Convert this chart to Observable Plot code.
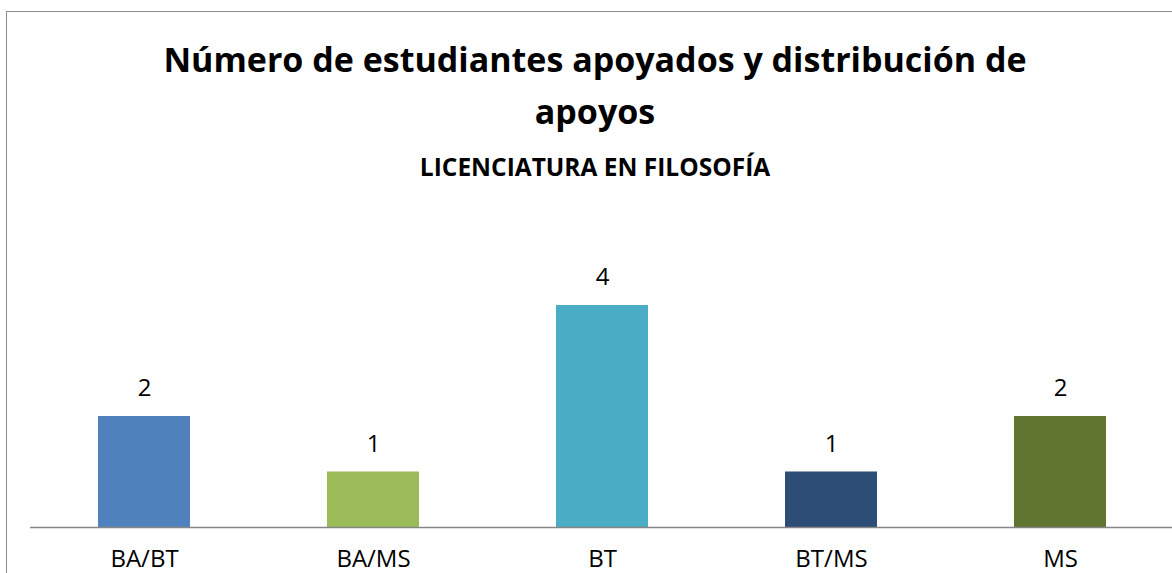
<!DOCTYPE html>
<html>
<head>
<meta charset="utf-8">
<script src="https://cdn.jsdelivr.net/npm/d3@7"></script>
<script src="https://cdn.jsdelivr.net/npm/@observablehq/plot@0.6"></script>
<style>
  html, body { margin: 0; padding: 0; background: #fff; overflow: hidden; }
  body { width: 1172px; height: 573px; position: relative; font-family: "Open Sans", sans-serif; }
  #frame { position: absolute; left: 6px; top: 11px; width: 1166px; height: 562px; border-left: 1.5px solid #8c8c8c; border-top: 1.5px solid #8c8c8c; box-sizing: border-box; }
  #title { position: absolute; left: 0; width: 1190px; top: 33px; text-align: center; font-weight: 700; font-size: 34px; line-height: 52px; color: #000; }
  #subtitle { position: absolute; left: 0; width: 1190px; top: 150px; text-align: center; font-weight: 700; font-size: 24.5px; color: #000; }
  #chart { position: absolute; left: 0; top: 0; }
</style>
</head>
<body>
<div id="frame"></div>
<div id="title">Número de estudiantes apoyados y distribución de<br>apoyos</div>
<div id="subtitle">LICENCIATURA EN FILOSOFÍA</div>
<div id="chart"></div>
<script>
const categories = ["BA/BT", "BA/MS", "BT", "BT/MS", "MS"];
const values = [2, 1, 4, 1, 2];
const colors = ["#4F81BD", "#9BBB59", "#4BACC6", "#2C4D75", "#5F7530"];

const data = categories.map((c, i) => ({category: c, value: values[i], color: colors[i]}));

const chart = Plot.plot({
  width: 1172,
  height: 573,
  marginLeft: 30,
  marginRight: 0,
  marginTop: 0,
  marginBottom: 46,
  style: {fontFamily: "'Open Sans', sans-serif", fontSize: "24px", color: "#000", background: "transparent"},
  x: {domain: categories, range: [28.5, 1176], paddingInner: 0.6, paddingOuter: 0.3, align: 0.5, label: null, tickSize: 0, tickPadding: 22},
  y: {domain: [0, 4], range: [527, 305], axis: null},
  marks: [
    Plot.barY(data, {x: "category", y: "value", fill: "color"}),
    Plot.ruleY([0], {stroke: "#868686", strokeWidth: 1.5}),
    Plot.text(data, {x: "category", y: "value", text: d => String(d.value), dy: -28, fontSize: 24, fill: "#000"})
  ]
});
document.getElementById("chart").appendChild(chart);
</script>
</body>
</html>
